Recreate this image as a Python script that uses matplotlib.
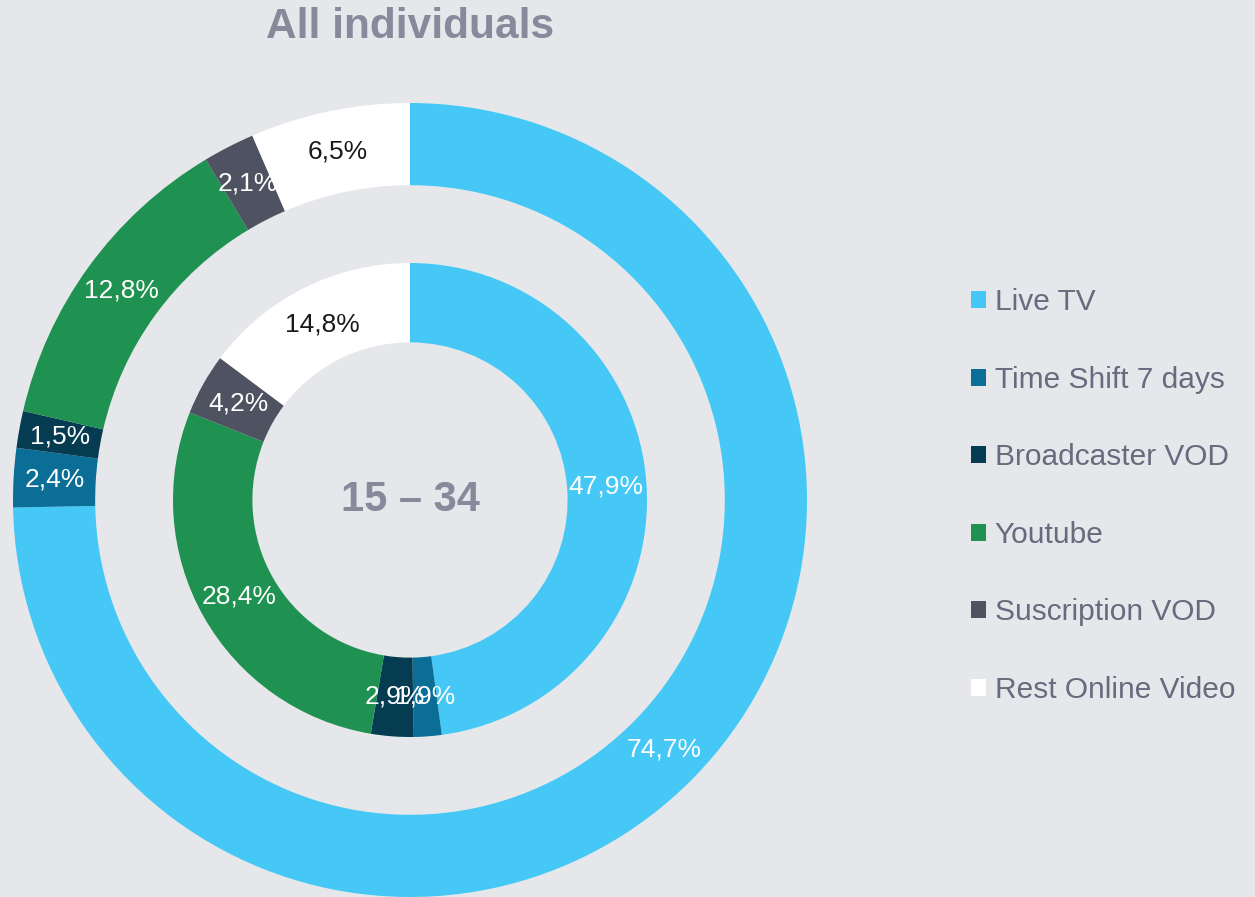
import matplotlib.pyplot as plt
from matplotlib.patches import Patch

plt.rcParams['font.family'] = ['Liberation Sans', 'DejaVu Sans']

# data
categories = ['Live TV', 'Time Shift 7 days', 'Broadcaster VOD', 'Youtube',
              'Suscription VOD', 'Rest Online Video']
all_individuals = [74.7, 2.4, 1.5, 12.8, 2.1, 6.5]
age_15_34 = [47.9, 1.9, 2.9, 28.4, 4.2, 14.8]
colors = ['#45C8F5', '#0A6E96', '#063C52', '#1F9150', '#4F5260', '#FFFFFF']
label_colors = ['white', 'white', 'white', 'white', 'white', '#1a1a1a']

bg = '#E5E7EB'
legend_text = '#676B7D'
title_grey = '#878A9A'

fig = plt.figure(figsize=(12.55, 8.97), dpi=100, facecolor=bg)
ax = fig.add_axes([13 / 1255, 0, 794 / 1255, 794 / 897])
ax.set_facecolor(bg)

def fmt(v):
    return f'{v:.1f}%'.replace('.', ',')

# outer ring: all individuals
wedges_o, texts_o = ax.pie(all_individuals, radius=1.0, startangle=90, counterclock=False,
                           colors=colors, labels=[fmt(v) for v in all_individuals],
                           labeldistance=0.897,
                           wedgeprops=dict(width=0.207, linewidth=0))
# inner ring: 15-34
wedges_i, texts_i = ax.pie(age_15_34, radius=0.597, startangle=90, counterclock=False,
                           colors=colors, labels=[fmt(v) for v in age_15_34],
                           labeldistance=0.83,
                           wedgeprops=dict(width=0.2, linewidth=0))

for texts in (texts_o, texts_i):
    for t, c in zip(texts, label_colors):
        t.set_ha('center')
        t.set_va('center')
        t.set_color(c)
        t.set_fontsize(19)

ax.set_xlim(-1, 1)
ax.set_ylim(-1, 1)
ax.set_aspect('equal')
ax.axis('off')

ax.text(0, 0, '15 – 34', ha='center', va='center', fontsize=30,
        fontweight='bold', color=title_grey)
fig.text(410 / 1255, 1 - 27 / 897, 'All individuals', ha='center', va='center',
         fontsize=30.5, fontweight='bold', color=title_grey)

handles = [Patch(facecolor=c, edgecolor='none') for c in colors]
leg = fig.legend(handles, categories, loc='center left',
                 bbox_to_anchor=(944 / 1255, 1 - 496 / 897),
                 frameon=False, fontsize=21.5, handlelength=0.5, handleheight=0.5,
                 handletextpad=0.3, labelspacing=1.66)
for t in leg.get_texts():
    t.set_color(legend_text)

fig.savefig('out.png', dpi=100, facecolor=bg)
